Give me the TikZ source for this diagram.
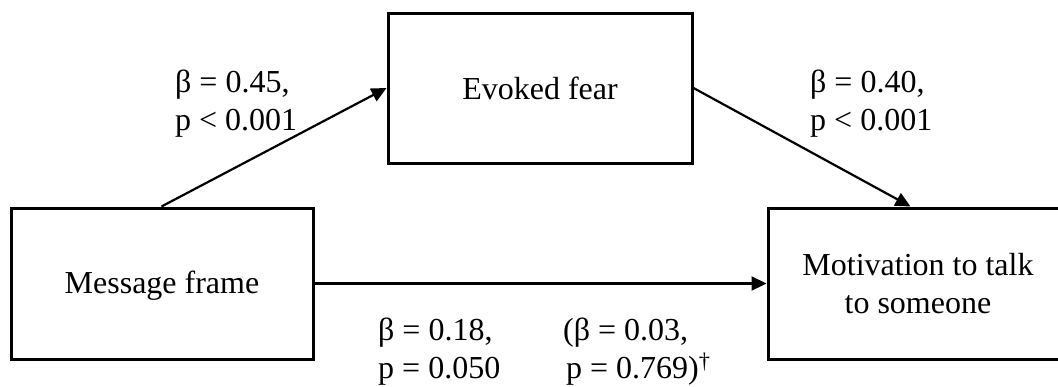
\documentclass[tikz,border=0pt]{standalone}
\usepackage{fontspec}
\setmainfont{Liberation Serif}
\usetikzlibrary{arrows.meta}
\tikzset{
  box/.style={draw=black, line width=3pt, fill=white, rectangle, align=center,
    font=\fontsize{32}{38}\selectfont, inner sep=0pt},
  arr/.style={line width=2.2pt, -{Triangle[length=15pt,width=14pt]}},
  lab/.style={anchor=base west, inner sep=0pt, font=\fontsize{32}{38}\selectfont}
}
\begin{document}
\begin{tikzpicture}[x=1pt,y=-1pt]
\useasboundingbox (0,0) rectangle (1058,386);
\node[box, minimum width=302pt, minimum height=151pt, text depth=2pt] (mf) at (162,283.5) {Message frame};
\node[box, minimum width=304pt, minimum height=150pt] (ef) at (540,88) {Evoked fear};
\node[box, minimum width=300pt, minimum height=151pt] (mo) at (918,283.5) {Motivation to talk\\to someone};
\coordinate (s1) at ([xshift=152pt]mf.north west);
\coordinate (e2) at ([xshift=144pt]mo.north west);
\draw[arr] (s1) -- (ef.west);
\draw[arr] (ef.east) -- (e2);
\draw[arr] (mf.east) -- (mo.west);
\node[lab] (l1) at (175,92) {\begin{tabular}[t]{@{}l@{}}β = 0.45,\\p < 0.001\end{tabular}};
\node[lab] (l2) at (810,92) {\begin{tabular}[t]{@{}l@{}}β = 0.40,\\p < 0.001\end{tabular}};
\node[lab] (l3) at (378,340) {\begin{tabular}[t]{@{}l@{}}β = 0.18,\\p = 0.050\end{tabular}};
\node[lab] (l4) at (563,340) {\begin{tabular}[t]{@{}l@{}}(β = 0.03,\\\hspace{3pt}p = 0.769)\textsuperscript{†}\end{tabular}};
\end{tikzpicture}
\end{document}
